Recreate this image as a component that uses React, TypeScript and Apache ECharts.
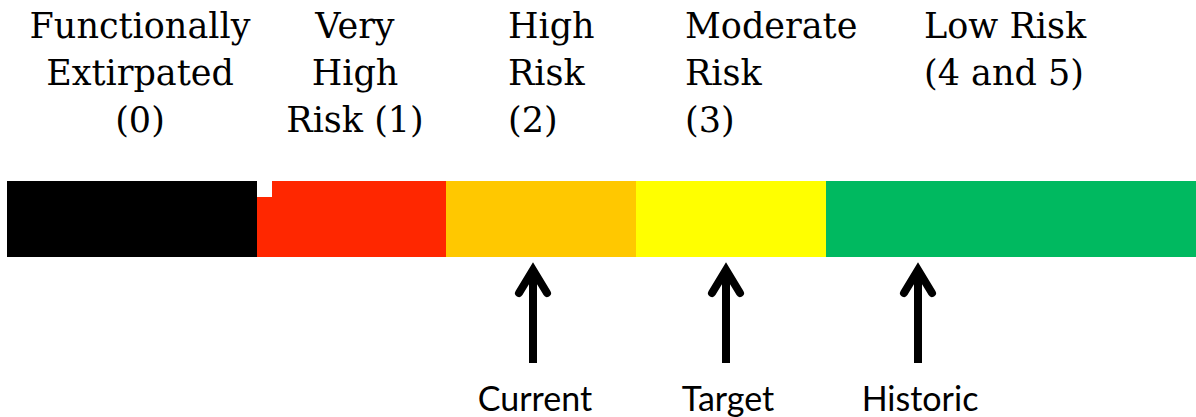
import React, { useEffect, useRef } from "react";
import * as echarts from "echarts";

const segmentNames = ["Functionally Extirpated (0)", "Very High Risk (1)", "High Risk (2)", "Moderate Risk (3)", "Low Risk (4 and 5)"];
const segmentWidths = [250, 189, 190, 190, 370];
const segmentColors = ["#000000", "#FF2700", "#FFC800", "#FFFF00", "#00B960"];
const headerLines = [
  ["Functionally", "Extirpated", "(0)"],
  ["Very", "High", "Risk (1)"],
  ["High", "Risk", "(2)"],
  ["Moderate", "Risk", "(3)"],
  ["Low Risk", "(4 and 5)"],
];
const headerX = [140, 355, 508, 685, 924];
const headerAlign = ["center", "center", "left", "left", "left"];
const markerLabels = ["Current", "Target", "Historic"];
const markerValues = [526, 719, 911];

export default function App() {
  const ref = useRef<HTMLDivElement>(null);
  useEffect(() => {
    document.body.style.margin = "0";
    const chart = echarts.init(ref.current!, null, { renderer: "svg" });
    const total = segmentWidths.reduce((a, b) => a + b, 0);
    const serif = "'DejaVu Serif', serif";
    const sans = "Lato, 'Open Sans', sans-serif";
    chart.setOption({
      animation: false,
      backgroundColor: "#ffffff",
      grid: [
        { left: 7, right: 0, top: 181, height: 76 },
        { left: 7, right: 0, top: 270, height: 93 },
      ],
      xAxis: [
        { type: "value", min: 0, max: total, show: false, gridIndex: 0 },
        { type: "value", min: 0, max: total, show: false, gridIndex: 1 },
      ],
      yAxis: [
        { type: "category", data: ["scale"], show: false, gridIndex: 0 },
        { type: "value", min: 0, max: 1, show: false, gridIndex: 1 },
      ],
      series: [
        ...segmentWidths.map((w, i) => ({
          type: "bar",
          name: segmentNames[i],
          stack: "s",
          xAxisIndex: 0,
          yAxisIndex: 0,
          barWidth: "100%",
          barCategoryGap: 0,
          itemStyle: { color: segmentColors[i] },
          data: [w],
        })),
        {
          type: "custom",
          xAxisIndex: 1,
          yAxisIndex: 1,
          data: markerValues.map((v, i) => [v, markerLabels[i]]),
          renderItem: (params: any, api: any) => {
            const v = api.value(0);
            const top = api.coord([v, 1]);
            const bot = api.coord([v, 0]);
            const x = top[0];
            const ty = top[1];
            const by = bot[1];
            const label = markerLabels[params.dataIndex];
            return {
              type: "group",
              children: [
                {
                  type: "line",
                  shape: { x1: x, y1: ty + 2, x2: x, y2: by },
                  style: { stroke: "#000", lineWidth: 8, lineCap: "butt" },
                },
                {
                  type: "polyline",
                  shape: { points: [[x - 14, ty + 23], [x, ty], [x + 14, ty + 23]] },
                  style: { stroke: "#000", lineWidth: 8, lineCap: "round", lineJoin: "miter", fill: null },
                },
                {
                  type: "text",
                  style: {
                    text: label,
                    x: x + 2,
                    y: 397,
                    align: "center",
                    verticalAlign: "middle",
                    font: `34px ${sans}`,
                    fill: "#000",
                  },
                },
              ],
            };
          },
        },
      ],
      graphic: [
        ...headerLines.map((lines, i) => ({
          type: "text",
          x: headerX[i],
          y: 2,
          style: {
            text: lines.join("\n"),
            font: `35px ${serif}`,
            lineHeight: 47,
            align: headerAlign[i],
            verticalAlign: "top",
            fill: "#000",
          },
        })),
        {
          type: "rect",
          shape: { x: 257, y: 181, width: 15, height: 16 },
          style: { fill: "#ffffff" },
          z: 100,
        },
      ],
    });
    return () => chart.dispose();
  }, []);
  return <div ref={ref} style={{ width: 1196, height: 417 }} />;
}
